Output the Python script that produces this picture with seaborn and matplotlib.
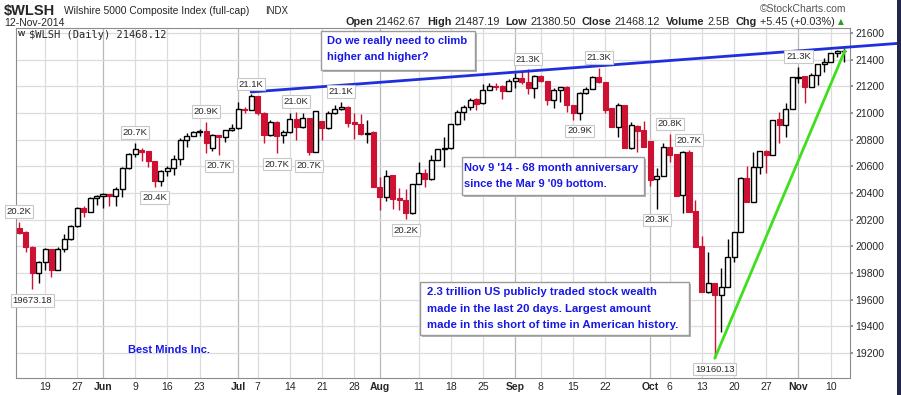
import numpy as np
import pandas as pd
import seaborn as sns
import matplotlib.pyplot as plt
from matplotlib.patches import Rectangle

# daily candles, 13-May-2014 .. 12-Nov-2014
opens = [20135, 20110, 19997, 19802, 19885, 19977, 19822, 19977, 20055, 20152,
         20290, 20255, 20360, 20377, 20390, 20377, 20430, 20585, 20690, 20720,
         20715, 20640, 20492, 20565, 20585, 20653, 20798, 20828, 20858, 20865,
         20735, 20835, 20818, 20872, 20885, 21030, 21022, 21128, 21002, 20835,
         20935, 20835, 20855, 20953, 20893, 20960, 20710, 20940, 20885, 20998,
         21028, 21048, 20935, 20918, 20840, 20860, 20448, 20372, 20533, 20360,
         20348, 20248, 20468, 20552, 20503, 20648, 20728, 20735, 20915, 21010,
         21048, 21105, 21073, 21172, 21205, 21205, 21165, 21240, 21260, 21235,
         21185, 21280, 21240, 21098, 21172, 21198, 21060, 20998, 21148, 21180,
         21272, 21230, 21035, 20898, 21060, 20735, 20905, 20872, 20790, 20505,
         20530, 20743, 20693, 20385, 20705, 20265, 20003, 19660, 19723, 19635,
         19697, 19922, 20110, 20510, 20335, 20593, 20718, 20685, 20953, 20910,
         21028, 21265, 21278, 21193, 21285, 21368, 21385, 21448, 21462.67]
highs = [20185, 20112, 20000, 19892, 19985, 19980, 19993, 20092, 20160, 20297,
         20302, 20372, 20385, 20402, 20392, 20448, 20597, 20700, 20777, 20735,
         20718, 20642, 20572, 20602, 20685, 20810, 20848, 20862, 20878, 20935,
         20840, 20838, 20875, 20918, 21085, 21048, 21140, 21130, 21005, 20945,
         20938, 20872, 20998, 21010, 21002, 20962, 21017, 20942, 21017, 21060,
         21085, 21050, 20998, 20993, 20948, 20862, 20518, 20572, 20535, 20435,
         20428, 20470, 20635, 20578, 20685, 20732, 20822, 20918, 21022, 21060,
         21115, 21115, 21215, 21222, 21222, 21207, 21255, 21298, 21315, 21328,
         21282, 21282, 21242, 21185, 21198, 21200, 21062, 21160, 21198, 21280,
         21340, 21232, 21037, 21073, 21062, 20935, 20907, 20940, 20792, 20590,
         20773, 20843, 20695, 20712, 20720, 20348, 20078, 19960, 19725, 19835,
         20053, 20110, 20522, 20600, 20710, 20718, 20720, 20948, 21010, 21073,
         21272, 21348, 21280, 21302, 21370, 21410, 21450, 21470, 21487.19]
lows = [20092, 19960, 19677, 19727, 19822, 19772, 19820, 19960, 20045, 20145,
        20218, 20255, 20310, 20285, 20302, 20305, 20372, 20580, 20672, 20642,
        20597, 20448, 20455, 20527, 20535, 20610, 20743, 20826, 20828, 20702,
        20712, 20685, 20780, 20865, 20878, 20998, 21020, 20985, 20777, 20830,
        20698, 20773, 20850, 20798, 20890, 20685, 20708, 20798, 20883, 20990,
        21020, 20893, 20803, 20838, 20777, 20443, 20272, 20342, 20278, 20272,
        20203, 20245, 20465, 20448, 20500, 20645, 20597, 20732, 20912, 20948,
        21022, 21022, 21065, 21170, 21170, 21105, 21163, 21185, 21215, 21140,
        21110, 21235, 21060, 21035, 21085, 21010, 20948, 20948, 21140, 21178,
        21228, 20998, 20898, 20822, 20735, 20733, 20710, 20748, 20455, 20280,
        20528, 20635, 20380, 20248, 20260, 19997, 19660, 19650, 19160.13, 19360,
        19695, 19880, 20108, 20333, 20333, 20543, 20552, 20683, 20773, 20822,
        21026, 21222, 21078, 21191, 21210, 21310, 21380, 21420, 21380.50]
closes = [20102, 19993, 19802, 19885, 19977, 19822, 19977, 20055, 20152, 20285,
          20255, 20360, 20377, 20390, 20377, 20430, 20585, 20690, 20728, 20710,
          20640, 20492, 20565, 20585, 20653, 20798, 20828, 20860, 20862, 20773,
          20835, 20818, 20872, 20885, 21028, 21020, 21130, 20998, 20835, 20935,
          20828, 20860, 20953, 20893, 20960, 20710, 21017, 20885, 20998, 21028,
          21048, 20927, 20915, 20840, 20850, 20443, 20372, 20528, 20353, 20345,
          20248, 20468, 20552, 20503, 20648, 20728, 20735, 20915, 21010, 21048,
          21098, 21065, 21172, 21205, 21198, 21165, 21240, 21260, 21230, 21185,
          21280, 21240, 21098, 21172, 21198, 21060, 20998, 21148, 21180, 21272,
          21230, 21022, 20898, 21060, 20735, 20910, 20865, 20748, 20498, 20530,
          20743, 20685, 20380, 20705, 20260, 19997, 19660, 19723, 19635, 19697,
          19922, 20110, 20510, 20335, 20593, 20718, 20685, 20948, 20910, 21028,
          21272, 21270, 21193, 21285, 21368, 21385, 21448, 21462.67, 21468.12]

holidays = ["2014-05-26", "2014-07-04", "2014-09-01"]
tick_dates = ["2014-05-19", "2014-05-27", "2014-06-02", "2014-06-09", "2014-06-16",
              "2014-06-23", "2014-07-01", "2014-07-07", "2014-07-14", "2014-07-21",
              "2014-07-28", "2014-08-01", "2014-08-11", "2014-08-18", "2014-08-25",
              "2014-09-02", "2014-09-08", "2014-09-15", "2014-09-22", "2014-10-01",
              "2014-10-06", "2014-10-13", "2014-10-20", "2014-10-27", "2014-11-03",
              "2014-11-10"]
tick_labels = ["19", "27", "Jun", "9", "16", "23", "Jul", "7", "14", "21", "28", "Aug",
               "11", "18", "25", "Sep", "8", "15", "22", "Oct", "6", "13", "20", "27",
               "Nov", "10"]
months = ["Jun", "Jul", "Aug", "Sep", "Oct", "Nov"]

# peak / trough callouts: candle index, text, side
callout_idx = [0, 2, 18, 21, 29, 31, 36, 40, 43, 45, 50, 60, 79, 87, 90, 99, 101, 104, 108, 121]
callout_text = ["20.2K", "19673.18", "20.7K", "20.4K", "20.9K", "20.7K", "21.1K", "20.7K",
                "21.0K", "20.7K", "21.1K", "20.2K", "21.3K", "20.9K", "21.3K", "20.3K",
                "20.8K", "20.7K", "19160.13", "21.3K"]
callout_side = ["hi", "lo", "hi", "lo", "hi", "lo", "hi", "lo", "hi", "lo", "hi", "lo",
                "hi", "lo", "hi", "lo", "hi", "hi", "lo", "hi"]

# hand drawn trend lines (candle index, price)
blue_x = [36, 136.8]
blue_y = [21157, 21523]
green_x = [108, 128.2]
green_y = [19160, 21467]

sns.set_theme(style="white")
plt.rcParams['font.family'] = ['Liberation Sans', 'DejaVu Sans']

W, H = 901, 395
RED = '#cc1133'
BLUE = '#1818e6'

fig = plt.figure(figsize=(W / 100, H / 100), dpi=100)
ax = fig.add_axes([16 / W, 17 / H, 834 / W, 350 / H])

o = np.array(opens)
hi = np.array(highs)
lo = np.array(lows)
c = np.array(closes)
idx = np.arange(len(c))
up = c >= o

days = pd.bdate_range("2014-05-13", "2014-11-12")
days = days[~days.isin(pd.to_datetime(holidays))]
tick_pos = [days.get_loc(pd.Timestamp(d)) for d in tick_dates]

# grid
for p, lab in zip(tick_pos, tick_labels):
    ax.axvline(p, color='#b8b8b8' if lab in months else '#dcdcdc', lw=0.9, zorder=0)
for yv in range(19200, 21601, 200):
    ax.axhline(yv, color='#dcdcdc', lw=0.9, zorder=0)

# candles
ax.vlines(idx, lo, hi, colors=np.where(up, 'black', RED), lw=1, zorder=2)
ax.bar(idx[up], np.maximum(c - o, 4)[up], bottom=o[up], width=0.78,
       facecolor='white', edgecolor='black', lw=1, zorder=3)
ax.bar(idx[~up], np.maximum(o - c, 4)[~up], bottom=c[~up], width=0.78,
       facecolor=RED, edgecolor=RED, lw=0.8, zorder=3)

# trend lines
sns.lineplot(x=green_x, y=green_y, ax=ax, color='#3ee01c', lw=2, zorder=5)
sns.lineplot(x=blue_x, y=blue_y, ax=ax, color='#1f2fdc', lw=2, zorder=5)
ax.lines[-1].set_clip_on(False)

# callouts
for i, t, s in zip(callout_idx, callout_text, callout_side):
    yv = highs[i] if s == "hi" else lows[i]
    ax.annotate(t, (i, yv), xytext=(0, 10 if s == "hi" else -11),
                textcoords='offset pixels', ha='center', va='center', fontsize=6.8,
                zorder=6, annotation_clip=False,
                bbox=dict(boxstyle='square,pad=0.18', fc='white', ec='#c8c8c8', lw=0.8))

ax.set_xlim(-0.51, 129.0)
ax.set_ylim(19012, 21637)
ax.set_xticks(tick_pos)
ax.set_xticklabels(tick_labels, fontsize=7.5)
for lab in ax.get_xticklabels():
    if lab.get_text() in months:
        lab.set_fontweight('bold')
ax.set_xticks(idx, minor=True)
ax.tick_params(axis='x', which='major', length=0, pad=3)
ax.tick_params(axis='x', which='minor', length=2, color='#aaaaaa', width=0.6)
ax.yaxis.tick_right()
ax.set_yticks(range(19200, 21601, 200))
ax.tick_params(axis='y', length=2, pad=2, labelsize=7.5, color='#888888')
for sp in ax.spines.values():
    sp.set_color('#8c8c8c')
    sp.set_linewidth(0.8)


def px(x, y):
    return x / W, 1 - y / H


def note_box(x0, y0, x1, y1):
    fig.patches.append(Rectangle(((x0 + 2) / W, 1 - (y1 + 2) / H), (x1 - x0) / W, (y1 - y0) / H,
                                 transform=fig.transFigure, fc='#b4b4b4', ec='none', zorder=10))
    fig.patches.append(Rectangle((x0 / W, 1 - y1 / H), (x1 - x0) / W, (y1 - y0) / H,
                                 transform=fig.transFigure, fc='white', ec='#9a9a9a', lw=1, zorder=11))


note_box(321, 31, 475, 70)
fig.text(*px(327, 41), "Do we really need to climb", color=BLUE, fontsize=8, fontweight='bold', va='center', zorder=12)
fig.text(*px(327, 57), "higher and higher?", color=BLUE, fontsize=8, fontweight='bold', va='center', zorder=12)

note_box(462, 157, 644, 195)
fig.text(*px(464, 168), "Nov 9 '14 - 68 month anniversary", color=BLUE, fontsize=8, fontweight='bold', va='center', zorder=12)
fig.text(*px(464, 184), "since the Mar 9 '09 bottom.", color=BLUE, fontsize=8, fontweight='bold', va='center', zorder=12)

note_box(420, 282, 689, 335)
for k, line in enumerate(["2.3 trillion US publicly traded stock wealth",
                          "made in the last 20 days. Largest amount",
                          "made in this short of time in American history."]):
    fig.text(*px(427, 292 + 16.5 * k), line, color=BLUE, fontsize=8.2, fontweight='bold', va='center', zorder=12)

fig.text(*px(128, 350), "Best Minds Inc.", color=BLUE, fontsize=8, fontweight='bold', va='center', zorder=12)

# header
fig.text(*px(4, 11), "$WLSH", fontsize=10.5, fontweight='bold', va='center')
fig.text(*px(64, 11), "Wilshire 5000 Composite Index (full-cap)", fontsize=7.4, va='center')
fig.text(*px(265, 11), "INDX", fontsize=7, va='center')
fig.text(*px(4, 23), "12-Nov-2014", fontsize=7.5, va='center')
fig.text(*px(760, 9), "\u00a9StockCharts.com", fontsize=7.5, color='#555555', va='center')
fig.text(*px(18, 35), "W", fontsize=5.5, fontweight='bold', va='center', color='#333333')
fig.text(*px(29, 35), "$WLSH (Daily) 21468.12", family='DejaVu Sans Mono', fontsize=7.5, va='center')

pieces = [("Open", 'bold'), ("21462.67", 'normal'), ("High", 'bold'), ("21487.19", 'normal'),
          ("Low", 'bold'), ("21380.50", 'normal'), ("Close", 'bold'), ("21468.12", 'normal'),
          ("Volume", 'bold'), ("2.5B", 'normal'), ("Chg", 'bold'), ("+5.45 (+0.03%)", 'normal')]
fig.canvas.draw()
r = fig.canvas.get_renderer()
x = 345
for k, (s, w) in enumerate(pieces):
    t = fig.text(*px(x, 22), s, fontsize=7.8, fontweight=w, va='center')
    x += t.get_window_extent(renderer=r).width + (3 if w == 'bold' else 6)
fig.text(*px(x - 3, 22), "\u25b2", fontsize=5.5, color='#2a9d2a', va='center', family='DejaVu Sans')

fig.patches.append(Rectangle((897 / W, 0), 4 / W, 1, transform=fig.transFigure, fc='#23264a', ec='none'))

fig.savefig('out.png', dpi=100)
